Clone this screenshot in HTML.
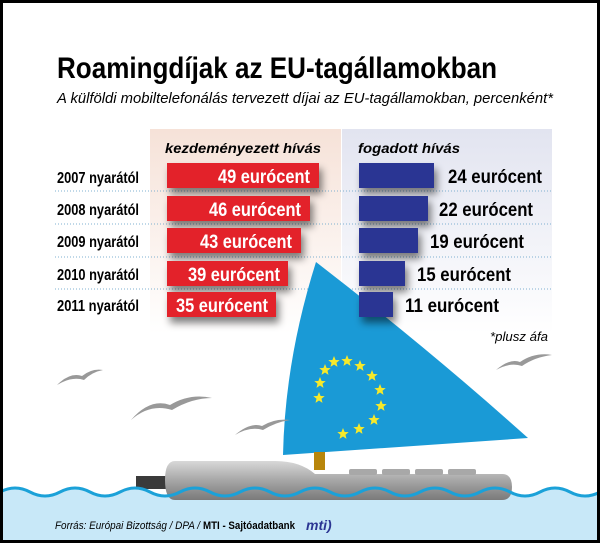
<!DOCTYPE html>
<html><head><meta charset="utf-8"><style>html,body{margin:0;padding:0;background:#fff}svg{display:block}</style></head>
<body>
<svg width="600" height="543" viewBox="0 0 600 543" xmlns="http://www.w3.org/2000/svg" font-family="Liberation Sans, sans-serif">
<defs>
<filter id="sh" x="-20%" y="-20%" width="140%" height="200%"><feGaussianBlur in="SourceAlpha" stdDeviation="4"/><feOffset dx="3" dy="6"/><feComponentTransfer><feFuncA type="linear" slope="0.5"/></feComponentTransfer><feMerge><feMergeNode/><feMergeNode in="SourceGraphic"/></feMerge></filter>
<linearGradient id="pk" x1="0" y1="0" x2="0" y2="1"><stop offset="0" stop-color="#f6e2d8"/><stop offset="1" stop-color="#fff"/></linearGradient>
<linearGradient id="bl" x1="0" y1="0" x2="0" y2="1"><stop offset="0" stop-color="#e2e4f0"/><stop offset="1" stop-color="#fff"/></linearGradient>
<linearGradient id="gr" x1="0" y1="0" x2="0" y2="1"><stop offset="0" stop-color="#d8d8d8"/><stop offset="0.5" stop-color="#a6a6a6"/><stop offset="1" stop-color="#7a7a7a"/></linearGradient>
<path id="st" d="M0,-6 L1.6,-2 L5.7,-1.9 L2.5,0.7 L3.5,4.9 L0,2.5 L-3.5,4.9 L-2.5,0.7 L-5.7,-1.9 L-1.6,-2Z" fill="#f7e92a"/>
</defs>
<rect x="0" y="0" width="600" height="543" fill="#fff"/>
<rect x="150" y="129" width="191" height="205" fill="url(#pk)"/>
<rect x="342" y="129" width="210" height="205" fill="url(#bl)"/>
<text x="57" y="78" font-size="30" font-weight="bold" textLength="440" lengthAdjust="spacingAndGlyphs">Roamingdíjak az EU-tagállamokban</text>
<text x="57" y="103" font-size="15" font-style="italic" textLength="496" lengthAdjust="spacingAndGlyphs">A külföldi mobiltelefonálás tervezett díjai az EU-tagállamokban, percenként*</text>
<text x="165" y="153" font-size="14" font-style="italic" font-weight="bold" textLength="156" lengthAdjust="spacingAndGlyphs">kezdeményezett hívás</text>
<text x="358" y="153" font-size="14" font-style="italic" font-weight="bold" textLength="102" lengthAdjust="spacingAndGlyphs">fogadott hívás</text>
<g stroke="#7fb0d0" stroke-width="1" stroke-dasharray="1,2">
<line x1="55" y1="191" x2="552" y2="191"/><line x1="55" y1="224" x2="552" y2="224"/><line x1="55" y1="257" x2="552" y2="257"/><line x1="55" y1="289" x2="552" y2="289"/></g>
<g font-size="16" font-weight="bold">
<text x="57" y="183" textLength="82" lengthAdjust="spacingAndGlyphs">2007 nyarától</text>
<text x="57" y="215" textLength="82" lengthAdjust="spacingAndGlyphs">2008 nyarától</text>
<text x="57" y="247" textLength="82" lengthAdjust="spacingAndGlyphs">2009 nyarától</text>
<text x="57" y="280" textLength="82" lengthAdjust="spacingAndGlyphs">2010 nyarától</text>
<text x="57" y="311" textLength="82" lengthAdjust="spacingAndGlyphs">2011 nyarától</text>
</g>
<!-- sail -->
<path d="M316,262 Q285,360 283,455 L528,438 Q430,350 316,262Z" fill="#1a9ad6"/>
<g>
<use href="#st" x="334" y="362"/><use href="#st" x="347" y="361"/><use href="#st" x="360" y="366"/>
<use href="#st" x="372" y="376"/><use href="#st" x="380" y="390"/><use href="#st" x="381" y="406"/>
<use href="#st" x="374" y="420"/><use href="#st" x="359" y="429"/><use href="#st" x="343" y="434"/>
<use href="#st" x="325" y="370"/><use href="#st" x="320" y="383"/><use href="#st" x="319" y="398"/>
</g>
<g filter="url(#sh)">
<rect x="167" y="163" width="152" height="25" fill="#e3222b"/>
<rect x="167" y="196" width="143" height="25" fill="#e3222b"/>
<rect x="167" y="228" width="134" height="25" fill="#e3222b"/>
<rect x="167" y="261" width="121" height="25" fill="#e3222b"/>
<rect x="167" y="292" width="109" height="25" fill="#e3222b"/>
<rect x="359" y="163" width="75" height="25" fill="#2b3593"/>
<rect x="359" y="196" width="69" height="25" fill="#2b3593"/>
<rect x="359" y="228" width="59" height="25" fill="#2b3593"/>
<rect x="359" y="261" width="46" height="25" fill="#2b3593"/>
<rect x="359" y="292" width="34" height="25" fill="#2b3593"/>
</g>
<g font-size="19" font-weight="bold" fill="#fff">
<text x="218" y="183" textLength="92" lengthAdjust="spacingAndGlyphs">49 eurócent</text>
<text x="209" y="216" textLength="92" lengthAdjust="spacingAndGlyphs">46 eurócent</text>
<text x="200" y="248" textLength="92" lengthAdjust="spacingAndGlyphs">43 eurócent</text>
<text x="188" y="281" textLength="92" lengthAdjust="spacingAndGlyphs">39 eurócent</text>
<text x="176" y="312" textLength="92" lengthAdjust="spacingAndGlyphs">35 eurócent</text>
</g>
<g font-size="19" font-weight="bold">
<text x="448" y="183" textLength="94" lengthAdjust="spacingAndGlyphs">24 eurócent</text>
<text x="439" y="216" textLength="94" lengthAdjust="spacingAndGlyphs">22 eurócent</text>
<text x="430" y="248" textLength="94" lengthAdjust="spacingAndGlyphs">19 eurócent</text>
<text x="417" y="281" textLength="94" lengthAdjust="spacingAndGlyphs">15 eurócent</text>
<text x="405" y="312" textLength="94" lengthAdjust="spacingAndGlyphs">11 eurócent</text>
</g>
<text x="490" y="341" font-size="13" font-style="italic" textLength="58" lengthAdjust="spacingAndGlyphs">*plusz áfa</text>
<!-- birds -->
<g fill="#999">
<path d="M57,385 Q70,372 82,376 Q92,368 103,370 Q92,372 84,380 Q72,376 57,385Z"/>
<path d="M131,420 Q150,398 170,405 Q190,393 212,398 Q192,398 172,410 Q150,403 131,420Z"/>
<path d="M235,435 Q250,422 262,426 Q275,418 290,420 Q276,422 263,430 Q250,426 235,435Z"/>
<path d="M496,370 Q510,358 520,362 Q535,352 552,355 Q535,357 522,366 Q510,362 496,370Z"/>
</g>
<rect x="314" y="452" width="11" height="18" fill="#b8860b"/>
<!-- water -->
<path d="M0,492 Q15,484 30,492 T60,492 T90,492 T120,492 T150,492 T180,492 T210,492 T240,492 T270,492 T300,492 T330,492 T360,492 T390,492 T420,492 T450,492 T480,492 T510,492 T540,492 T570,492 T600,492 L600,543 L0,543Z" fill="#c8e8f8"/>
<!-- bottle -->
<rect x="136" y="476" width="33" height="13" fill="#3a3a3a"/>
<path d="M175,461 L275,461 Q300,461 315,474 L502,474 Q512,474 512,487 Q512,500 502,500 L175,500 Q165,500 165,480 Q165,461 175,461Z" fill="url(#gr)"/>
<g fill="#a8a8a8"><rect x="349" y="469" width="28" height="6" rx="2"/><rect x="382" y="469" width="28" height="6" rx="2"/><rect x="415" y="469" width="28" height="6" rx="2"/><rect x="448" y="469" width="28" height="6" rx="2"/></g>
<path d="M0,492 Q15,484 30,492 T60,492 T90,492 T120,492 T150,492 T180,492 T210,492 T240,492 T270,492 T300,492 T330,492 T360,492 T390,492 T420,492 T450,492 T480,492 T510,492 T540,492 T570,492 T600,492" fill="none" stroke="#1ba1d8" stroke-width="3"/>
<text x="55" y="529" font-size="11" font-style="italic" textLength="145" lengthAdjust="spacingAndGlyphs">Forrás: Európai Bizottság / DPA /</text>
<text x="203" y="529" font-size="11" font-weight="bold" textLength="92" lengthAdjust="spacingAndGlyphs">MTI - Sajtóadatbank</text>
<text x="306" y="530" font-size="14" font-style="italic" font-weight="bold" fill="#2b3593">mti)</text>
<rect x="1.5" y="1.5" width="597" height="540" fill="none" stroke="#000" stroke-width="3"/>
</svg>
</body></html>
